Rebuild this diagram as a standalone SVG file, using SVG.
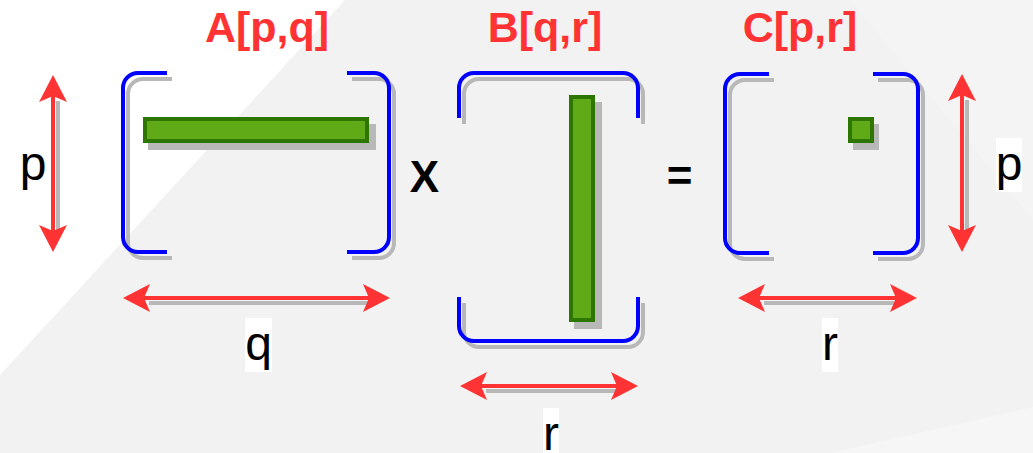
<svg xmlns="http://www.w3.org/2000/svg" width="1033" height="453" viewBox="0 0 1033 453">
<style>
.bk{fill:none;stroke:#0000ff;stroke-width:4}
.bks{fill:none;stroke:#b8b8b8;stroke-width:4}
.cell{fill:#60a917;stroke:#2d7600;stroke-width:4}
.cells{fill:#b8b8b8}
.shaft{stroke:#ff3333;stroke-width:4;fill:none}
.shs{stroke:#b8b8b8;stroke-width:4;fill:none}
.title{font-family:"Liberation Sans",Arial,sans-serif;font-weight:bold;font-size:43px;fill:#ff3333;text-anchor:middle}
.op{font-family:"Liberation Sans",Arial,sans-serif;font-weight:bold;font-size:44px;fill:#000;text-anchor:middle}
.lbl{font-family:"Liberation Sans",Arial,sans-serif;font-size:48px;fill:#000;text-anchor:middle}
.lblbg{fill:#ffffff}
</style>
<defs>
<marker id="head" markerUnits="userSpaceOnUse" viewBox="-7 -15 29 30" refX="0" refY="0" markerWidth="29" markerHeight="30" orient="auto-start-reverse">
<path d="M21,0 L-6,-14 L0,0 L-6,14 Z" fill="#ff3333"/>
</marker>
</defs>
<rect width="1033" height="453" fill="#f2f2f2"/>
<polygon points="0,0 345,0 0,375" fill="#ffffff"/>
<polygon points="850,0 1033,0 1033,220" fill="#f4f4f4"/>
<polygon points="830,453 1033,407 1033,453" fill="#f6f6f6"/>

<g id="titleA"><text class="title" x="267" y="42">A[p,q]</text></g>
<g id="titleB"><text class="title" x="545" y="42">B[q,r]</text></g>
<g id="titleC"><text class="title" x="800" y="42">C[p,r]</text></g>

<g id="matrixA">
<path class="bks" d="M172,79 H143 A15,15 0 0 0 128,94 V243 A15,15 0 0 0 143,258 H172"/>
<path class="bks" d="M352,79 H379 A15,15 0 0 1 394,94 V243 A15,15 0 0 1 379,258 H352"/>
<path class="bk" d="M167,73 H138 A15,15 0 0 0 123,88 V237 A15,15 0 0 0 138,252 H167"/>
<path class="bk" d="M347,73 H374 A15,15 0 0 1 389,88 V237 A15,15 0 0 1 374,252 H347"/>
<rect class="cells" x="148" y="124" width="228" height="26"/>
<rect class="cell" x="145" y="119" width="222" height="22"/>
</g>

<g id="opX"><text class="op" x="424.5" y="192">X</text></g>

<g id="matrixB">
<path class="bks" d="M464,124 V94 A15,15 0 0 1 479,79 H628 A15,15 0 0 1 643,94 V124"/>
<path class="bks" d="M464,303 V332 A15,15 0 0 0 479,347 H628 A15,15 0 0 0 643,332 V303"/>
<path class="bk" d="M459,118 V88 A15,15 0 0 1 474,73 H623 A15,15 0 0 1 638,88 V118"/>
<path class="bk" d="M459,297 V326 A15,15 0 0 0 474,341 H623 A15,15 0 0 0 638,326 V297"/>
<rect class="cells" x="574" y="102" width="28" height="227"/>
<rect class="cell" x="571" y="97" width="22" height="223"/>
</g>

<g id="opEq"><text class="op" x="679.5" y="191">=</text></g>

<g id="matrixC">
<path class="bks" d="M774,80 H745 A15,15 0 0 0 730,95 V244 A15,15 0 0 0 745,259 H774"/>
<path class="bks" d="M878,80 H908 A15,15 0 0 1 923,95 V244 A15,15 0 0 1 908,259 H878"/>
<path class="bk" d="M769,74 H740 A15,15 0 0 0 725,89 V238 A15,15 0 0 0 740,253 H769"/>
<path class="bk" d="M873,74 H903 A15,15 0 0 1 918,89 V238 A15,15 0 0 1 903,253 H873"/>
<rect class="cells" x="853" y="124" width="26" height="26"/>
<rect class="cell" x="850" y="119" width="22" height="22"/>
</g>

<g id="connectors">
<line class="shs" x1="58" y1="101" x2="58" y2="236"/>
<line class="shaft" x1="53" y1="96" x2="53" y2="231" marker-start="url(#head)" marker-end="url(#head)"/>
<line class="shs" x1="967" y1="100" x2="967" y2="236"/>
<line class="shaft" x1="962" y1="95" x2="962" y2="231" marker-start="url(#head)" marker-end="url(#head)"/>
<line class="shs" x1="149" y1="303" x2="374" y2="303"/>
<line class="shaft" x1="144" y1="298" x2="369" y2="298" marker-start="url(#head)" marker-end="url(#head)"/>
<line class="shs" x1="764" y1="303" x2="901" y2="303"/>
<line class="shaft" x1="759" y1="298" x2="896" y2="298" marker-start="url(#head)" marker-end="url(#head)"/>
<line class="shs" x1="486" y1="391" x2="622" y2="391"/>
<line class="shaft" x1="481" y1="386" x2="617" y2="386" marker-start="url(#head)" marker-end="url(#head)"/>
</g>

<g id="labelPLeft"><text class="lbl" x="33" y="180">p</text></g>
<g id="labelPRight"><rect class="lblbg" x="996" y="138" width="26" height="54"/><text class="lbl" x="1009" y="180">p</text></g>
<g id="labelQ"><rect class="lblbg" x="245" y="318" width="27" height="54"/><text class="lbl" x="258.5" y="360">q</text></g>
<g id="labelRC"><rect class="lblbg" x="822" y="318" width="16" height="54"/><text class="lbl" x="830" y="360">r</text></g>
<g id="labelRB"><rect class="lblbg" x="543" y="408" width="16" height="54"/><text class="lbl" x="551" y="450">r</text></g>
</svg>
